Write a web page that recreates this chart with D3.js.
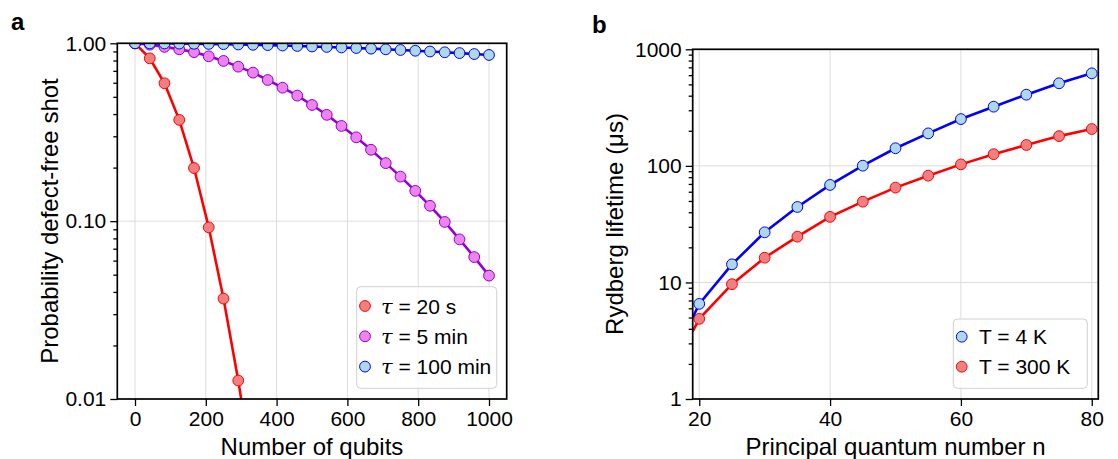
<!DOCTYPE html>
<html><head><meta charset="utf-8">
<script src="https://cdn.jsdelivr.net/npm/d3@7"></script>
<style>
body{margin:0;background:#fff;}
svg text{font-family:"Liberation Sans",Arial,sans-serif;fill:#000;}
</style></head>
<body><svg id="c" width="1118" height="459"></svg>
<script>
// ---- Panel a data ----
const qubits = [0, 41.7, 83.3, 125, 166.7, 208.3, 250, 291.7, 333.3, 375, 416.7, 458.3, 500, 541.7, 583.3, 625, 666.7, 708.3, 750, 791.7, 833.3, 875, 916.7, 958.3, 1000];
const prob20s = [1.0, 0.823, 0.596, 0.371, 0.199, 0.0923, 0.0367, 0.0127, 0.0038];
const prob5min = [1.0, 0.982, 0.955, 0.925, 0.892, 0.845, 0.796, 0.739, 0.684, 0.622, 0.563, 0.508, 0.450, 0.396, 0.343, 0.296, 0.252, 0.212, 0.178, 0.148, 0.122, 0.099, 0.079, 0.0628, 0.0494];
const prob100min = [1.0, 0.999, 0.998, 0.9965, 0.994, 0.992, 0.989, 0.985, 0.981, 0.977, 0.972, 0.966, 0.960, 0.954, 0.948, 0.941, 0.933, 0.925, 0.917, 0.908, 0.899, 0.890, 0.881, 0.870, 0.860];
const seriesALabels = ["20 s", "5 min", "100 min"];
const xTicksA = [0, 200, 400, 600, 800, 1000];
const yTicksA = [0.01, 0.1, 1];
const yTickLabelsA = ["0.01", "0.10", "1.00"];

// ---- Panel b data ----
const nValues = [20, 25, 30, 35, 40, 45, 50, 55, 60, 65, 70, 75, 80];
const life4K = [6.55, 14.3, 26.9, 44.4, 68.6, 100.4, 141.6, 190, 252, 322, 408, 511, 622];
const life300K = [4.87, 9.66, 16.3, 24.7, 36.5, 49.3, 65.1, 82.4, 103, 126, 151, 180, 207];
const lineStartN = 19;
const life4KAtStart = 5.0;
const life300KAtStart = 3.8;
const seriesBLabels = ["T = 4 K", "T = 300 K"];
const xTicksB = [20, 40, 60, 80];
const yTicksB = [1, 10, 100, 1000];

const svg = d3.select("#c");
const defs = svg.append("defs");
const R = 5.4;

function minorTicks(lo, hi){
  const out=[];
  for(let d=lo; d<hi; d*=10) for(let k=2;k<=9;k++) out.push(d*k);
  return out;
}

function panel(opts){
  const {id, x0, x1, y0, y1, xDomain, yDomain, xTicks, yTicks, yFmt} = opts;
  const x = d3.scaleLinear().domain(xDomain).range([x0, x1]);
  const y = d3.scaleLog().domain(yDomain).range([y1, y0]);
  const g = svg.append("g");
  defs.append("clipPath").attr("id", id).append("rect")
    .attr("x", x0).attr("y", y0).attr("width", x1-x0).attr("height", y1-y0);
  const grid = g.append("g").attr("stroke", "#dcdcdc").attr("stroke-width", 1);
  grid.selectAll(".gx").data(xTicks).join("line")
    .attr("x1", d=>x(d)).attr("x2", d=>x(d)).attr("y1", y0).attr("y2", y1);
  grid.selectAll(".gy").data(yTicks).join("line")
    .attr("y1", d=>y(d)).attr("y2", d=>y(d)).attr("x1", x0).attr("x2", x1);
  const xa = g.append("g").attr("transform", `translate(0,${y1})`)
    .call(d3.axisBottom(x).tickValues(xTicks).tickSize(7).tickPadding(5).tickFormat(d3.format("d")));
  const ya = g.append("g").attr("transform", `translate(${x0},0)`)
    .call(d3.axisLeft(y).tickValues(yTicks).tickSize(7).tickPadding(4).tickFormat(yFmt));
  const ym = g.append("g").attr("transform", `translate(${x0},0)`)
    .call(d3.axisLeft(y).tickValues(minorTicks(yDomain[0], yDomain[1])).tickSize(4).tickFormat(""));
  [xa, ya, ym].forEach(a=>{
    a.select(".domain").remove();
    a.selectAll("line").attr("stroke", "#000").attr("stroke-width", 1.3);
    a.selectAll("text").style("font-size", "21px").attr("fill", "#000");
  });
  const plot = g.append("g").attr("clip-path", `url(#${id})`);
  return {x, y, g, plot, x0, x1, y0, y1};
}

function frame(p){
  p.g.append("rect").attr("x", p.x0).attr("y", p.y0).attr("width", p.x1-p.x0).attr("height", p.y1-p.y0)
    .attr("fill", "none").attr("stroke", "#000").attr("stroke-width", 1.7);
}

function series(p, xs, ys, line, fill, edge, lineXs, lineYs){
  const lx = lineXs || xs, ly = lineYs || ys;
  const pts = lx.map((d,i)=>[d, ly[i]]);
  p.plot.append("path").datum(pts)
    .attr("d", d3.line().x(d=>p.x(d[0])).y(d=>p.y(d[1])))
    .attr("fill", "none").attr("stroke", line).attr("stroke-width", 2.6);
  p.plot.selectAll(null).data(xs.map((d,i)=>[d, ys[i]])).join("circle")
    .attr("cx", d=>p.x(d[0])).attr("cy", d=>p.y(d[1])).attr("r", R)
    .attr("fill", fill).attr("stroke", edge).attr("stroke-width", 1);
}

// ---------- Panel a ----------
const A = panel({id:"clipA", x0:117.3, x1:506.7, y0:43.3, y1:399, xDomain:[-50,1050], yDomain:[0.01,1],
  xTicks:xTicksA, yTicks:yTicksA, yFmt:(d)=>yTickLabelsA[yTicksA.indexOf(d)]});
const colA = [
  {line:"#ff0000", fill:"#f08080", edge:"#ff0000"},
  {line:"#9400d3", fill:"#ee82ee", edge:"#9400d3"},
  {line:"#0000ff", fill:"#add8e6", edge:"#0000ff"}
];
series(A, qubits.slice(0, prob20s.length), prob20s, colA[0].line, colA[0].fill, colA[0].edge);
series(A, qubits, prob5min, colA[1].line, colA[1].fill, colA[1].edge);
series(A, qubits, prob100min, colA[2].line, colA[2].fill, colA[2].edge);
frame(A);

(function(){
  const lg = svg.append("g");
  lg.append("rect").attr("x", 356.7).attr("y", 286.7).attr("width", 140).attr("height", 101.6)
    .attr("rx", 4).attr("fill", "#fff").attr("fill-opacity", 0.8).attr("stroke", "#d0d0d0").attr("stroke-width", 1);
  seriesALabels.forEach((lab, i)=>{
    const cy = 306 + i*30.3;
    lg.append("circle").attr("cx", 365).attr("cy", cy).attr("r", R)
      .attr("fill", colA[i].fill).attr("stroke", colA[i].edge).attr("stroke-width", 1);
    const t = lg.append("text").attr("x", 381).attr("y", cy+7.5).style("font-size", "21px");
    t.append("tspan").text("τ").style("font-family", "'DejaVu Serif', serif").style("font-style", "italic");
    t.append("tspan").text(" = " + lab);
  });
})();

svg.append("text").attr("transform", "translate(58,221) rotate(-90)").attr("text-anchor", "middle")
  .style("font-size", "24px").text("Probability defect-free shot");
svg.append("text").attr("x", 312).attr("y", 455).attr("text-anchor", "middle")
  .style("font-size", "24px").text("Number of qubits");
svg.append("text").attr("x", 11).attr("y", 30).style("font-size", "24px").style("font-weight", "bold").text("a");

// ---------- Panel b ----------
const B = panel({id:"clipB", x0:692.7, x1:1098.3, y0:49.3, y1:399, xDomain:[19,81], yDomain:[1,1000],
  xTicks:xTicksB, yTicks:yTicksB, yFmt:d3.format("d")});
const colB = [
  {line:"#0000ff", fill:"#add8e6", edge:"#0000ff"},
  {line:"#ff0000", fill:"#f08080", edge:"#ff0000"}
];
series(B, nValues, life300K, colB[1].line, colB[1].fill, colB[1].edge, [lineStartN].concat(nValues), [life300KAtStart].concat(life300K));
series(B, nValues, life4K, colB[0].line, colB[0].fill, colB[0].edge, [lineStartN].concat(nValues), [life4KAtStart].concat(life4K));
frame(B);

(function(){
  const lg = svg.append("g");
  lg.append("rect").attr("x", 953.3).attr("y", 319).attr("width", 134).attr("height", 69.3)
    .attr("rx", 4).attr("fill", "#fff").attr("fill-opacity", 0.8).attr("stroke", "#d0d0d0").attr("stroke-width", 1);
  seriesBLabels.forEach((lab, i)=>{
    const cy = 336.7 + i*30;
    lg.append("circle").attr("cx", 961.7).attr("cy", cy).attr("r", R)
      .attr("fill", colB[i].fill).attr("stroke", colB[i].edge).attr("stroke-width", 1);
    lg.append("text").attr("x", 979).attr("y", cy+7.5).style("font-size", "21px").text(lab);
  });
})();

svg.append("text").attr("transform", "translate(623,224) rotate(-90)").attr("text-anchor", "middle")
  .style("font-size", "24px").text("Rydberg lifetime (μs)");
svg.append("text").attr("x", 895.5).attr("y", 455).attr("text-anchor", "middle")
  .style("font-size", "24px").text("Principal quantum number n");
svg.append("text").attr("x", 592).attr("y", 33).style("font-size", "24px").style("font-weight", "bold").text("b");
</script></body></html>
